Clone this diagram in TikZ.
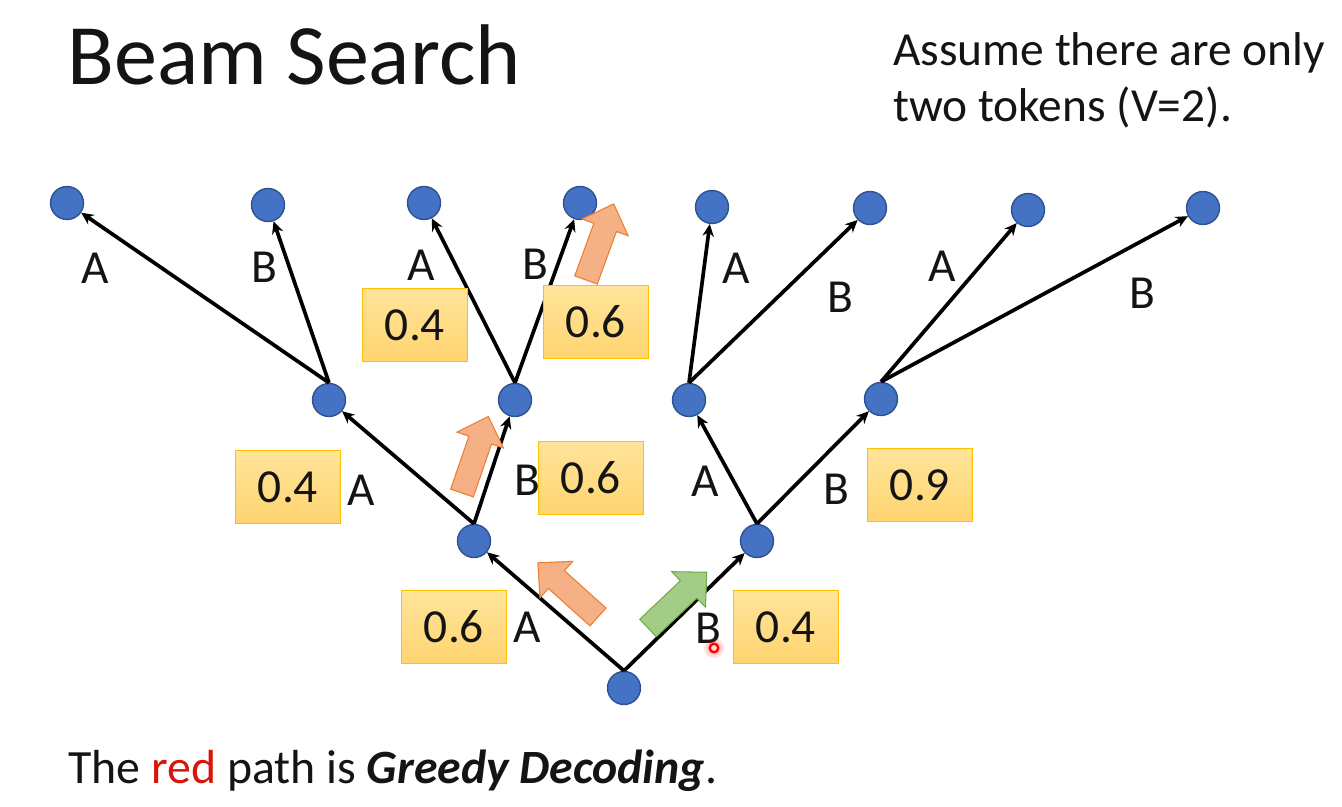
\documentclass[tikz,border=0pt]{standalone}
\usepackage{fontspec}
\setmainfont{Carlito}
\usetikzlibrary{arrows.meta}

\definecolor{nodeblue}{RGB}{68,114,196}
\definecolor{nodeedge}{RGB}{47,82,143}
\definecolor{boxtop}{RGB}{255,228,155}
\definecolor{boxbot}{RGB}{255,212,112}
\definecolor{boxedge}{RGB}{255,192,0}
\definecolor{orfill}{RGB}{245,177,133}
\definecolor{oredge}{RGB}{237,125,49}
\definecolor{grfill}{RGB}{163,204,135}
\definecolor{gredge}{RGB}{112,173,71}
\definecolor{pathred}{RGB}{214,22,12}
\definecolor{ink}{RGB}{20,20,20}

\tikzset{
  tok/.style={circle, fill=nodeblue, draw=nodeedge, line width=0.8pt,
    minimum size=0.66cm, inner sep=0pt},
  edge/.style={line width=2.1pt, -{Stealth[length=7pt,width=6.5pt]}},
  lbl/.style={inner sep=0pt, text=ink, font=\fontsize{27}{32}\selectfont},
  prob/.style={draw=boxedge, line width=0.6pt, top color=boxtop,
    bottom color=boxbot, minimum width=2.1cm, minimum height=1.46cm,
    inner sep=0pt, text=ink, font=\fontsize{27}{32}\selectfont},
  fatarrow/.pic={
    \path[pic actions] (0cm,-0.24cm) -- (1.12cm,-0.24cm) -- (1.12cm,-0.49cm)
      -- (1.62cm,0cm) -- (1.12cm,0.49cm) -- (1.12cm,0.24cm) -- (0cm,0.24cm) -- cycle;
  },
  orarrow/.style={fill=orfill, draw=oredge, line width=0.6pt, line join=miter},
  grarrow/.style={fill=grfill, draw=gredge, line width=0.6pt, line join=miter},
}

\begin{document}
\begin{tikzpicture}[x=0.02cm, y=-0.02cm]
\useasboundingbox (0,0) rectangle (1342,807);

% headings
\node[anchor=base west, inner sep=0pt, text=ink, font=\fontsize{49}{59}\selectfont]
  (title) at (67,85) {Beam Search};
\node[anchor=base west, inner sep=0pt, text=ink, font=\fontsize{27}{32}\selectfont]
  (note1) at (893,66) {Assume there are only};
\node[anchor=base west, inner sep=0pt, text=ink, font=\fontsize{27}{32}\selectfont]
  (note2) at (893,122) {two tokens (V=2).};
\node[anchor=base west, inner sep=0pt, text=ink, font=\fontsize{27.2}{32}\selectfont]
  (caption) at (68,783) {The \textcolor{pathred}{red} path is \textbf{\textit{Greedy Decoding}}.};

% decoding tree
\node[tok] (r) at (624,688) {};
\node[tok] (a) at (474,541) {};
\node[tok] (b) at (757,541) {};
\node[tok] (aa) at (329,400) {};
\node[tok] (ab) at (515,400) {};
\node[tok] (ba) at (689,400) {};
\node[tok] (bb) at (881,399) {};
\node[tok] (aaa) at (67,203) {};
\node[tok] (aab) at (268,205) {};
\node[tok] (aba) at (424,203) {};
\node[tok] (abb) at (580,203) {};
\node[tok] (baa) at (712,207) {};
\node[tok] (bab) at (870,208) {};
\node[tok] (bba) at (1028,210) {};
\node[tok] (bbb) at (1203,208) {};

\draw[edge] (r.north) -- (a);
\draw[edge] (r.north) -- (b);
\draw[edge] (a.north) -- (aa);
\draw[edge] (a.north) -- (ab);
\draw[edge] (b.north) -- (ba);
\draw[edge] (b.north) -- (bb);
\draw[edge] (aa.north) -- (aaa);
\draw[edge] (aa.north) -- (aab);
\draw[edge] (ab.north) -- (aba);
\draw[edge] (ab.north) -- (abb);
\draw[edge] (ba.north) -- (baa);
\draw[edge] (ba.north) -- (bab);
\draw[edge] (bb.north) -- (bba);
\draw[edge] (bb.north) -- (bbb);

% token labels
\node[lbl] (la) at (527,627) {A};
\node[lbl] (lb) at (708,628) {B};
\node[lbl] (laa) at (361,490) {A};
\node[lbl] (lab) at (527,480) {B};
\node[lbl] (lba) at (705,481) {A};
\node[lbl] (lbb) at (836,489) {B};
\node[lbl] (laaa) at (95,268) {A};
\node[lbl] (laab) at (264,267) {B};
\node[lbl] (laba) at (421,265) {A};
\node[lbl] (labb) at (535,264) {B};
\node[lbl] (lbaa) at (736,268) {A};
\node[lbl] (lbab) at (840,297) {B};
\node[lbl] (lbba) at (942,266) {A};
\node[lbl] (lbbb) at (1142,293) {B};

% probabilities
\node[prob] (pa) at (454,627) {0.6};
\node[prob] (pb) at (786,627) {0.4};
\node[prob] (paa) at (288,487) {0.4};
\node[prob] (pab) at (591,478) {0.6};
\node[prob] (pbb) at (920,485) {0.9};
\node[prob] (paba) at (415,325) {0.4};
\node[prob] (pabb) at (596,322) {0.6};

% greedy choices
\pic[orarrow, rotate=138] at (598,617) {fatarrow};
\pic[grarrow, rotate=43.5] at (648,628) {fatarrow};
\pic[orarrow, rotate=71] at (462,493) {fatarrow};
\pic[orarrow, rotate=70] at (586,280) {fatarrow};

% pointer mark
\fill[red, opacity=0.12] (714,648) circle (0.2cm);
\fill[red, opacity=0.15] (714,648) circle (0.14cm);
\draw[red, line width=1.3pt, fill=red!15] (714,648) circle (0.085cm);
\end{tikzpicture}
\end{document}
